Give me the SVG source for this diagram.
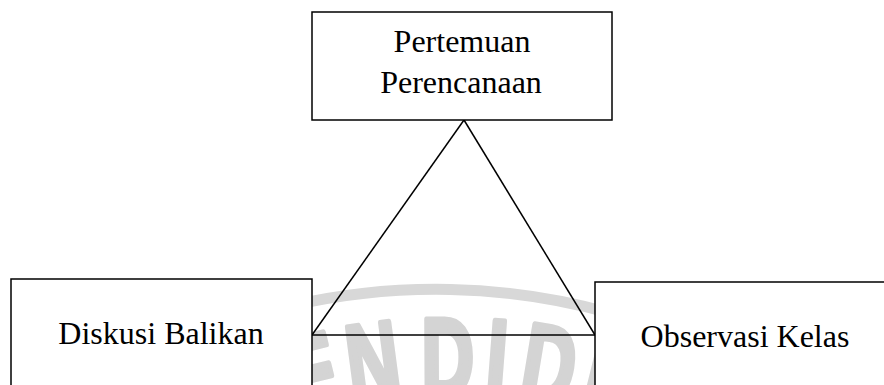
<svg xmlns="http://www.w3.org/2000/svg" width="884" height="385" viewBox="0 0 884 385">
  <style>
    .box { fill: #ffffff; stroke: #000000; stroke-width: 1.5; }
    .lbl { font-family: "Liberation Serif", "Times New Roman", serif; font-size: 32px; fill: #000000; text-anchor: middle; }
    .edge { stroke: #000000; stroke-width: 1.5; fill: none; }
    .wm { font-family: "Liberation Sans", Arial, sans-serif; font-weight: bold; font-size: 110px; fill: #d4d4d4; stroke: #d4d4d4; stroke-width: 6; stroke-linejoin: round; text-anchor: middle; }
  </style>
  <rect width="884" height="385" fill="#ffffff"/>
  <g id="watermark">
    <path d="M 290 306 A 650 650 0 0 1 610 313" fill="none" stroke="#d8d8d8" stroke-width="11"/>
    <text class="wm" transform="translate(322.4,410.5) rotate(-13.8) scale(0.66,1)">E</text>
    <text class="wm" transform="translate(378,399.6) rotate(-7.5) scale(0.66,1)">N</text>
    <text class="wm" transform="translate(448,395) rotate(-0.3) scale(0.66,1)">D</text>
    <text class="wm" transform="translate(494,396.6) rotate(4.35) scale(0.66,1)">I</text>
    <text class="wm" transform="translate(543,402.2) rotate(9.4) scale(0.66,1)">D</text>
    <text class="wm" transform="translate(588,410.7) rotate(13.9) scale(0.66,1)">I</text>
  </g>
  <g id="connectors">
    <line class="edge" x1="464" y1="120" x2="312" y2="335"/>
    <line class="edge" x1="464" y1="120" x2="595" y2="335"/>
    <line class="edge" x1="312" y1="335" x2="595" y2="335"/>
  </g>
  <g id="pertemuan-perencanaan">
    <rect class="box" x="312" y="12" width="300" height="108"/>
    <text class="lbl" x="462" y="52">Pertemuan</text>
    <text class="lbl" x="461" y="93">Perencanaan</text>
  </g>
  <g id="diskusi-balikan">
    <rect class="box" x="11" y="279" width="301" height="130"/>
    <text class="lbl" x="161" y="344">Diskusi Balikan</text>
  </g>
  <g id="observasi-kelas">
    <rect class="box" x="595" y="282" width="310" height="130"/>
    <text class="lbl" x="745" y="347">Observasi Kelas</text>
  </g>
</svg>
